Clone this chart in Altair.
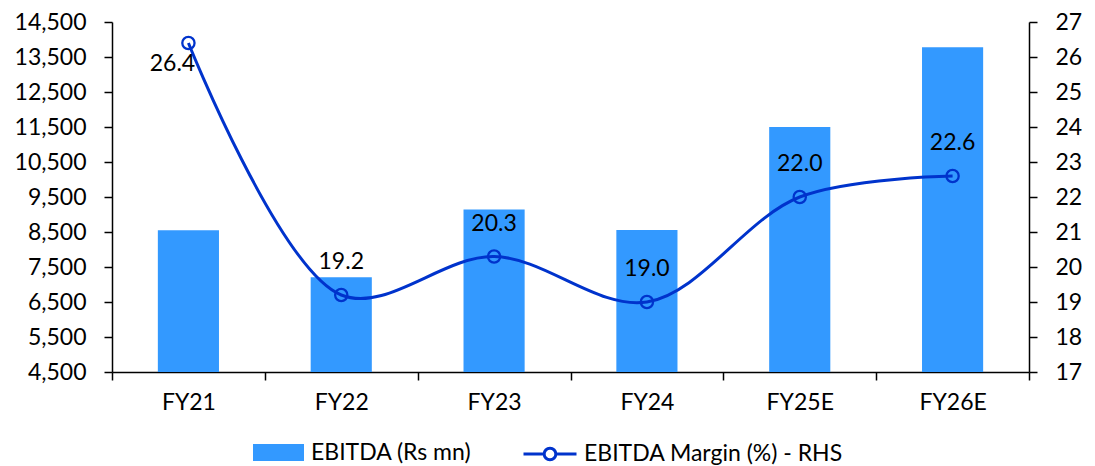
import json

import altair as alt
import pandas as pd

# Fiscal years, EBITDA (Rs mn, left axis) and EBITDA margin (%, right axis)
years = ["FY21", "FY22", "FY23", "FY24", "FY25E", "FY26E"]
ebitda = [8550, 7210, 9140, 8560, 11500, 13780]
margin = [26.4, 19.2, 20.3, 19.0, 22.0, 22.6]

left_ticks = list(range(4500, 14501, 1000))
right_ticks = list(range(17, 28))
left_min, left_max = 4500, 14500

bar_name = "EBITDA (Rs mn)"
line_name = "EBITDA Margin (%) - RHS"

df = pd.DataFrame({"year": years, "ebitda": ebitda, "margin": margin})
df["bar_series"] = bar_name
df["line_series"] = line_name

FONT = "Lato"
FS = 23
BAR = "#3399FF"
LINE = "#0033CC"
BAR_HALF = 0.2  # half bar width, in category slots

years_js = json.dumps(years)
n = len(years)

# Category slots on a continuous axis: ticks at slot boundaries, names at slot centres
x_axis = alt.Axis(
    values=[i / 2 for i in range(2 * n + 1)],
    labelExpr=f"datum.value % 1 == 0.5 ? {years_js}[floor(datum.value)] : ''",
    tickOpacity={"condition": {"test": "datum.value % 1 != 0", "value": 0}, "value": 1},
    labelOverlap=False,
    labelFlush=False,
    labelBound=False,
    tickSize=8,
    labelPadding=11,
    grid=False,
)
x_scale = alt.Scale(domain=[0, n], nice=False, zero=False, padding=0)

y_left = alt.Y(
    "ebitda:Q",
    title=None,
    scale=alt.Scale(domain=[left_min, left_max], nice=False, zero=False, padding=0),
    axis=alt.Axis(values=left_ticks, format=",.0f", tickSize=8, labelPadding=18, grid=False),
)

y_right = alt.Y(
    "margin:Q",
    title=None,
    scale=alt.Scale(domain=[17, 27], nice=False, zero=False, padding=0),
    axis=alt.Axis(orient="right", values=right_ticks, format="d", tickSize=8,
                  labelPadding=18, grid=False),
)

base = alt.Chart(df).transform_calculate(
    slot=f"indexof({years_js}, datum.year)"
).transform_calculate(
    mid="datum.slot + 0.5",
    left=f"datum.slot + 0.5 - {BAR_HALF}",
    right=f"datum.slot + 0.5 + {BAR_HALF}",
)

x_mid = alt.X("mid:Q", title=None, scale=x_scale, axis=x_axis)

bars = base.mark_bar().encode(
    x=alt.X("left:Q", title=None, scale=x_scale, axis=x_axis),
    x2="right:Q",
    y=y_left,
    y2=alt.Y2(datum=left_min),
    fill=alt.Fill(
        "bar_series:N",
        scale=alt.Scale(domain=[bar_name], range=[BAR]),
        legend=alt.Legend(
            title=None,
            orient="none",
            legendX=141,
            legendY=405,
            symbolType="M-1,-0.33L1,-0.33L1,0.33L-1,0.33Z",
            symbolSize=2601,
            symbolStrokeWidth=0,
            symbolOpacity=1,
            labelOffset=7,
        ),
    ),
)

line = base.mark_line(strokeWidth=3, interpolate="catmull-rom").encode(
    x=x_mid,
    y=y_right,
    stroke=alt.Stroke(
        "line_series:N",
        scale=alt.Scale(domain=[line_name], range=[LINE]),
        legend=alt.Legend(
            title=None,
            orient="none",
            legendX=410,
            legendY=404,
            symbolType="M-1,0L-0.22,0M0.22,0L1,0M0.22,0A0.22,0.22,0,1,1,-0.22,0A0.22,0.22,0,1,1,0.22,0",
            symbolSize=2809,
            symbolStrokeWidth=3,
            symbolFillColor="white",
            symbolStrokeColor=LINE,
            labelOffset=6,
        ),
    ),
)

points = base.mark_point(
    shape="circle", filled=False, size=150, strokeWidth=2.3, color=LINE, opacity=1
).encode(x=x_mid, y=y_right)

labels_above = base.mark_text(dy=-33, font=FONT, fontSize=FS, color="black").encode(
    x=x_mid, y=y_right, text=alt.Text("margin:Q", format=".1f")
).transform_filter(alt.datum.year != "FY21")

label_first = base.mark_text(dx=-16, dy=21, font=FONT, fontSize=FS, color="black").encode(
    x=x_mid, y=y_right, text=alt.Text("margin:Q", format=".1f")
).transform_filter(alt.datum.year == "FY21")

margin_layer = alt.layer(line, points, labels_above, label_first)

chart = (
    alt.layer(bars, margin_layer)
    .resolve_scale(y="independent")
    .properties(
        width=917,
        height=350,
        autosize=alt.AutoSizeParams(type="none"),
        padding={"left": 112, "top": 22, "right": 66, "bottom": 94},
        background="white",
    )
    .configure_view(stroke=None)
    .configure_axis(
        labelFont=FONT,
        labelFontSize=FS,
        labelColor="black",
        domainColor="black",
        domainWidth=1.5,
        tickColor="black",
        tickWidth=1.5,
    )
    .configure_legend(
        labelFont=FONT,
        labelFontSize=FS,
        labelColor="black",
        labelLimit=400,
    )
)

chart.save("out.html", embed_options={"renderer": "svg", "actions": False})
